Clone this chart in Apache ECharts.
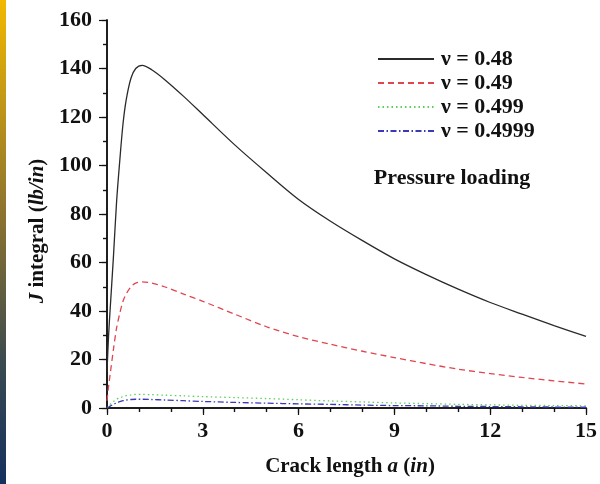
<!DOCTYPE html>
<html>
<head>
<meta charset="utf-8">
<script src="https://cdn.jsdelivr.net/npm/echarts@6/dist/echarts.min.js"></script>
<style>
  html, body { margin: 0; padding: 0; background: #fff; }
  #chart { width: 600px; height: 484px; }
</style>
</head>
<body>
<div id="chart"></div>
<script>
// crack length a (in)
const crackLength = [0, 0.05, 0.1, 0.2, 0.3, 0.4, 0.5, 0.6, 0.75, 0.9, 1.1, 1.4, 1.8, 2.4, 3,
  4, 5, 6, 7, 8, 9, 10, 11, 12, 13, 14, 15];

// J integral (lb/in) for each Poisson ratio
const jNu048 = [15, 30, 41, 62, 85, 102, 117, 127, 136, 140, 141.3, 139.5, 135.5, 128.5, 121,
  108.5, 97, 86, 77, 69, 61.5, 55, 49, 43.5, 38.7, 34, 29.5];
const jNu049 = [3, 9, 14, 24, 33, 39, 44, 47, 50, 51.5, 52, 51.5, 50, 47, 44,
  38.7, 33.5, 29.4, 26.3, 23.4, 20.8, 18.3, 16, 14.2, 12.6, 11.2, 9.9];
const jNu0499 = [0, 0.8, 1.5, 2.7, 3.6, 4.2, 4.7, 5.1, 5.4, 5.6, 5.6, 5.5, 5.3, 5.0, 4.7,
  4.3, 3.9, 3.4, 2.9, 2.5, 2.1, 1.8, 1.5, 1.3, 1.1, 1.0, 0.9];
const jNu04999 = [0, 0.4, 0.8, 1.5, 2.1, 2.6, 3.0, 3.3, 3.5, 3.6, 3.6, 3.5, 3.3, 3.0, 2.7,
  2.3, 2.0, 1.7, 1.5, 1.2, 1.0, 0.9, 0.7, 0.6, 0.5, 0.4, 0.3];

const seriesNames = ['ν = 0.48', 'ν = 0.49', 'ν = 0.499', 'ν = 0.4999'];

const FONT = '"Liberation Serif", "Times New Roman", serif';

const pair = ys => crackLength.map((x, i) => [x, ys[i]]);

const makeLine = (name, ys, color, type) => ({
  name,
  type: 'line',
  data: pair(ys),
  smooth: 0.3,
  symbol: 'none',
  xAxisIndex: 0,
  yAxisIndex: 0,
  lineStyle: { color, width: 1.3, type },
  itemStyle: { color },
});

const axisLineStyle = { lineStyle: { color: '#111', width: 1.5 } };
const tickStyle = { color: '#111', width: 1.2 };
const labelStyle = { fontFamily: FONT, fontWeight: 'bold', fontSize: 22, color: '#111' };
const italic = { fontFamily: FONT, fontWeight: 'bold', fontStyle: 'italic', fontSize: 21, fill: '#111' };

const chart = echarts.init(document.getElementById('chart'));

chart.setOption({
  animation: false,
  backgroundColor: '#fff',
  grid: { left: 107, right: 12, top: 20, bottom: 76 },
  legend: {
    orient: 'vertical',
    left: 377,
    top: 48,
    padding: 0,
    itemWidth: 56,
    itemHeight: 14,
    itemGap: 2,
    data: seriesNames,
    itemStyle: { opacity: 0 },
    textStyle: { ...labelStyle, padding: [0, 0, 0, 2] },
  },
  xAxis: [
    {
      type: 'value', min: 0, max: 15, interval: 3,
      axisLine: axisLineStyle,
      axisTick: { inside: false, length: 7, lineStyle: tickStyle },
      minorTick: { show: true, splitNumber: 3, length: 4, lineStyle: tickStyle },
      splitLine: { show: false },
      axisLabel: { margin: 12, ...labelStyle },
    },
    {
      type: 'value', position: 'top', min: 0, max: 15, interval: 3,
      axisLine: axisLineStyle,
      axisTick: { inside: true, length: 5, lineStyle: tickStyle },
      minorTick: { show: true, splitNumber: 3, length: 4, lineStyle: tickStyle },
      splitLine: { show: false },
      axisLabel: { show: false },
    },
  ],
  yAxis: [
    {
      type: 'value', min: 0, max: 160, interval: 20,
      axisLine: { show: true, ...axisLineStyle },
      axisTick: { show: true, inside: false, length: 8, lineStyle: tickStyle },
      minorTick: { show: true, splitNumber: 2, length: 4, lineStyle: tickStyle },
      splitLine: { show: false },
      axisLabel: { margin: 15, ...labelStyle },
    },
    {
      type: 'value', position: 'right', min: 0, max: 160, interval: 20,
      axisLine: { show: true, ...axisLineStyle },
      axisTick: { show: true, inside: true, length: 5, lineStyle: tickStyle },
      minorTick: { show: true, splitNumber: 2, length: 4, lineStyle: tickStyle },
      splitLine: { show: false },
      axisLabel: { show: false },
    },
  ],
  series: [
    makeLine(seriesNames[0], jNu048, '#2a2a2a', 'solid'),
    makeLine(seriesNames[1], jNu049, '#e0464e', [6, 4]),
    makeLine(seriesNames[2], jNu0499, '#5cd05c', [1.5, 3]),
    makeLine(seriesNames[3], jNu04999, '#3a3ab8', [6, 2.5, 1.5, 2.5]),
  ],
  graphic: [
    // slide background strip on the left edge
    {
      type: 'rect',
      left: 0, top: 0,
      shape: { width: 6, height: 484 },
      style: {
        fill: new echarts.graphic.LinearGradient(0, 0, 0, 1, [
          { offset: 0, color: '#f2b800' },
          { offset: 0.45, color: '#8a7230' },
          { offset: 0.75, color: '#3a4a50' },
          { offset: 1, color: '#14305e' },
        ]),
      },
      silent: true,
    },
    {
      type: 'text',
      x: 452, y: 178,
      style: {
        text: 'Pressure loading',
        font: 'bold 22px ' + FONT,
        fill: '#111',
        align: 'center',
        verticalAlign: 'middle',
      },
    },
    {
      type: 'text',
      x: 350, y: 467,
      style: {
        text: 'Crack length {i|a} ({i|in})',
        font: 'bold 21px ' + FONT,
        fill: '#111',
        align: 'center',
        verticalAlign: 'middle',
        rich: { i: italic },
      },
    },
    {
      type: 'text',
      x: 38, y: 231,
      rotation: Math.PI / 2,
      style: {
        text: '{i|J} integral ({i|lb/in})',
        font: 'bold 21px ' + FONT,
        fill: '#111',
        align: 'center',
        verticalAlign: 'middle',
        rich: { i: italic },
      },
    },
  ],
});
</script>
</body>
</html>
